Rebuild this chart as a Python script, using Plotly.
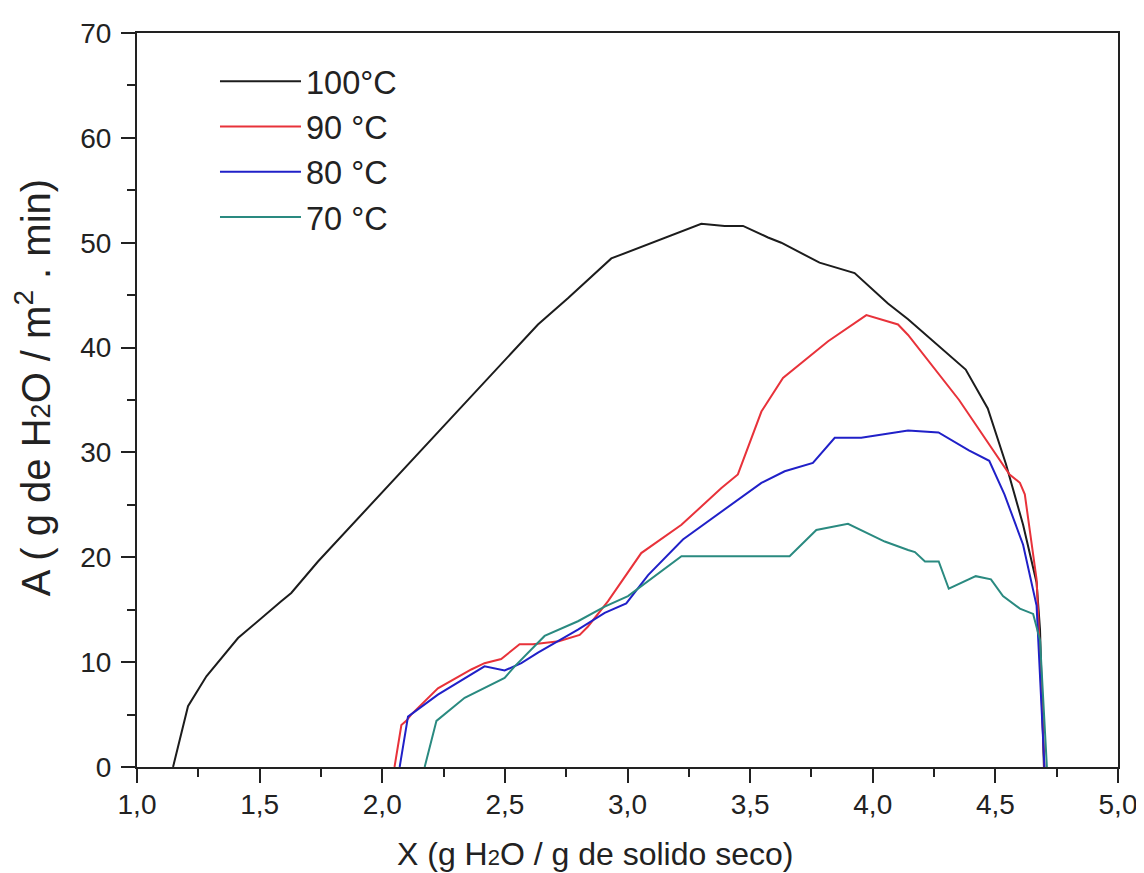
import plotly.graph_objects as go

# curves (X in g H2O / g solido seco, A in g H2O / m2.min)
x_100 = [1.147, 1.208, 1.283, 1.412, 1.588, 1.629, 1.738, 2.513, 2.635, 2.757, 2.934,
         3.301, 3.396, 3.471, 3.573, 3.627, 3.783, 3.926, 4.062, 4.144, 4.379, 4.469,
         4.543, 4.613, 4.668, 4.682, 4.698]
y_100 = [0.0, 5.8, 8.65, 12.3, 15.8, 16.6, 19.6, 39.2, 42.2, 44.7, 48.5,
         51.8, 51.6, 51.6, 50.5, 50.0, 48.1, 47.1, 44.2, 42.7, 37.9, 34.2,
         28.9, 23.1, 17.6, 13.1, 0.0]

x_90 = [2.05, 2.078, 2.098, 2.118, 2.227, 2.363, 2.417, 2.485, 2.56, 2.615, 2.72, 2.805,
        2.839, 2.92, 3.056, 3.22, 3.383, 3.45, 3.546, 3.634, 3.818, 3.974, 4.103, 4.144,
        4.352, 4.474, 4.558, 4.6, 4.62, 4.668, 4.675, 4.70]
y_90 = [0.0, 4.0, 4.4, 5.0, 7.5, 9.3, 9.9, 10.3, 11.7, 11.7, 12.0, 12.6,
        13.4, 15.8, 20.4, 23.1, 26.6, 27.9, 33.9, 37.1, 40.6, 43.1, 42.2, 41.2,
        35.0, 30.8, 27.9, 27.1, 26.0, 17.9, 14.4, 0.0]

x_80 = [2.071, 2.105, 2.227, 2.417, 2.499, 2.567, 2.635, 2.798, 2.907, 2.995, 3.084,
        3.226, 3.546, 3.641, 3.756, 3.845, 3.953, 4.144, 4.268, 4.392, 4.475, 4.537,
        4.613, 4.668, 4.70]
y_80 = [0.0, 4.8, 6.9, 9.6, 9.2, 9.9, 10.9, 13.1, 14.7, 15.6, 18.3,
        21.7, 27.1, 28.2, 29.0, 31.4, 31.4, 32.1, 31.9, 30.2, 29.2, 26.0,
        21.2, 15.4, 0.0]

x_70 = [2.173, 2.221, 2.336, 2.499, 2.54, 2.662, 2.798, 2.907, 3.002, 3.22, 3.661,
        3.77, 3.899, 4.049, 4.144, 4.172, 4.213, 4.269, 4.31, 4.42, 4.482, 4.531,
        4.6, 4.654, 4.682, 4.71]
y_70 = [0.0, 4.4, 6.6, 8.5, 9.6, 12.5, 13.9, 15.3, 16.3, 20.1, 20.1,
        22.6, 23.2, 21.5, 20.7, 20.5, 19.6, 19.6, 17.0, 18.2, 17.9, 16.3,
        15.1, 14.6, 12.1, 0.0]

series = [
    ("100°C", x_100, y_100, "#1c1c1c"),
    ("90 °C", x_90, y_90, "#e8323a"),
    ("80 °C", x_80, y_80, "#2020c8"),
    ("70 °C", x_70, y_70, "#2a8a80"),
]

x_title = "X (g H<span style='font-size:22px'>2</span>O / g de solido seco)"
y_title = "A ( g de H<span style='font-size:27px'>2</span>O / m<sup>2</sup> . min)"

FONT = "Liberation Sans, Arial, sans-serif"
INK = "#222222"

fig = go.Figure()
for name, xs, ys, color in series:
    fig.add_trace(go.Scatter(x=xs, y=ys, mode="lines", name=name, legendgroup=name,
                             line=dict(color=color, width=2)))

axis_style = dict(showline=True, linecolor=INK, linewidth=2, mirror=True,
                  ticks="outside", ticklen=14, tickwidth=2, tickcolor=INK,
                  showgrid=False, zeroline=False, automargin=False,
                  tickfont=dict(family=FONT, size=28, color=INK))

fig.update_xaxes(range=[1, 5], dtick=0.5, tick0=1, tickformat=".1f", ticklabelstandoff=-3,
                 minor=dict(dtick=0.25, ticks="outside", ticklen=8, tickwidth=2, tickcolor=INK),
                 **axis_style)
fig.update_yaxes(range=[0, 70], dtick=10, ticklabelstandoff=4,
                 minor=dict(dtick=5, ticks="outside", ticklen=8, tickwidth=2, tickcolor=INK),
                 **axis_style)

fig.add_annotation(text=x_title, xref="paper", yref="paper", x=0.467, y=-0.119,
                   xanchor="center", yanchor="middle", showarrow=False,
                   font=dict(family=FONT, size=32, color=INK))
fig.add_annotation(text=y_title, xref="paper", yref="paper", x=-0.106, y=0.516,
                   xanchor="center", yanchor="middle", showarrow=False, textangle=-90,
                   font=dict(family=FONT, size=40, color=INK))

fig.update_layout(
    width=1144, height=873,
    margin=dict(l=129, r=34, t=25, b=114),
    paper_bgcolor="white", plot_bgcolor="white",
    separators=",.",
    font=dict(family=FONT, color=INK),
    showlegend=True,
    legend=dict(x=0.0795, y=0.972, xanchor="left", yanchor="top",
                font=dict(family=FONT, size=32.5, color=INK),
                bgcolor="rgba(0,0,0,0)", tracegroupgap=0, itemwidth=81),
)

fig.write_html("out.html")
